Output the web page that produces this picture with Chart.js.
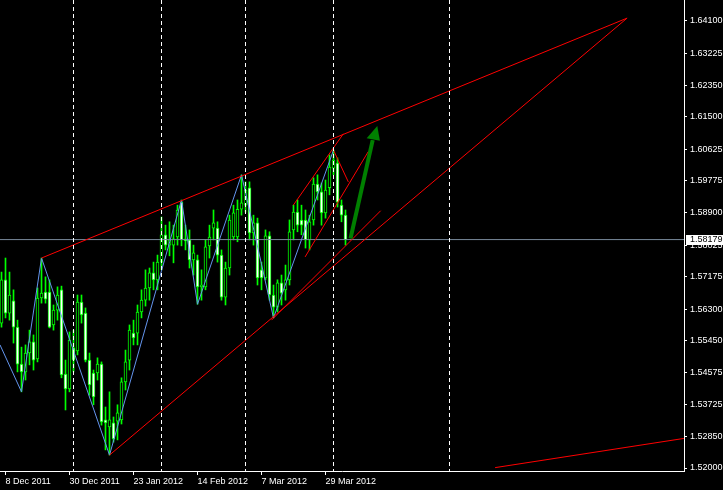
<!DOCTYPE html>
<html>
<head>
<meta charset="utf-8">
<script src="https://cdn.jsdelivr.net/npm/chart.js@4.4.0/dist/chart.umd.min.js"></script>
<style>
  html, body { margin: 0; padding: 0; background: #000; }
  canvas { display: block; background: #000; }
</style>
</head>
<body>
<canvas id="myChart" width="723" height="490"></canvas>
<script>
// daily candles, bar 0 = 7 Dec 2011 ... bar 86 = 5 Apr 2012
const opens = [1.5592, 1.5709, 1.5619, 1.5652, 1.5581, 1.5481, 1.5460, 1.5511, 1.5541, 1.5495,
  1.5660, 1.5676, 1.5676, 1.5587, 1.5627, 1.5682, 1.5454, 1.5414, 1.5525, 1.5517,
  1.5649, 1.5619, 1.5492, 1.5457, 1.5457, 1.5481, 1.5330, 1.5311, 1.5322, 1.5327,
  1.5330, 1.5433, 1.5492, 1.5565, 1.5565, 1.5622, 1.5654, 1.5687, 1.5728, 1.5709,
  1.5757, 1.5831, 1.5803, 1.5803, 1.5825, 1.5919, 1.5820, 1.5817, 1.5763, 1.5763,
  1.5690, 1.5690, 1.5801, 1.5849, 1.5849, 1.5776, 1.5662, 1.5741, 1.5825, 1.5825,
  1.5900, 1.5911, 1.5958, 1.5836, 1.5863, 1.5736, 1.5714, 1.5828, 1.5668, 1.5635,
  1.5701, 1.5682, 1.5709, 1.5844, 1.5892, 1.5871, 1.5871, 1.5817, 1.5871, 1.5968,
  1.5947, 1.5890, 1.5958, 1.6011, 1.6025, 1.5911, 1.5884]
const highs = [1.5730, 1.5768, 1.5730, 1.5682, 1.5600, 1.5527, 1.5533, 1.5573, 1.5560, 1.5687,
  1.5768, 1.5717, 1.5709, 1.5641, 1.5690, 1.5692, 1.5492, 1.5568, 1.5573, 1.5668,
  1.5668, 1.5633, 1.5511, 1.5465, 1.5498, 1.5487, 1.5365, 1.5406, 1.5338, 1.5371,
  1.5444, 1.5519, 1.5587, 1.5600, 1.5641, 1.5682, 1.5736, 1.5741, 1.5757, 1.5776,
  1.5879, 1.5857, 1.5866, 1.5857, 1.5911, 1.5925, 1.5857, 1.5844, 1.5803, 1.5776,
  1.5736, 1.5817, 1.5857, 1.5898, 1.5866, 1.5790, 1.5757, 1.5884, 1.5911, 1.5925,
  1.5993, 1.5974, 1.5974, 1.5884, 1.5876, 1.5757, 1.5844, 1.5839, 1.5695, 1.5709,
  1.5722, 1.5749, 1.5871, 1.5911, 1.5925, 1.5911, 1.5898, 1.5884, 1.5985, 1.5993,
  1.5971, 1.5979, 1.6047, 1.6060, 1.6039, 1.5925, 1.5898]
const lows = [1.5581, 1.5606, 1.5600, 1.5538, 1.5460, 1.5406, 1.5438, 1.5479, 1.5465, 1.5487,
  1.5646, 1.5646, 1.5579, 1.5573, 1.5600, 1.5444, 1.5357, 1.5406, 1.5460, 1.5506,
  1.5592, 1.5487, 1.5397, 1.5371, 1.5438, 1.5316, 1.5249, 1.5235, 1.5270, 1.5276,
  1.5319, 1.5411, 1.5465, 1.5533, 1.5533, 1.5606, 1.5638, 1.5654, 1.5682, 1.5682,
  1.5736, 1.5790, 1.5774, 1.5755, 1.5803, 1.5801, 1.5790, 1.5741, 1.5722, 1.5643,
  1.5654, 1.5682, 1.5768, 1.5817, 1.5757, 1.5654, 1.5641, 1.5722, 1.5817, 1.5812,
  1.5884, 1.5892, 1.5817, 1.5803, 1.5695, 1.5682, 1.5709, 1.5654, 1.5606, 1.5622,
  1.5641, 1.5654, 1.5695, 1.5817, 1.5839, 1.5831, 1.5795, 1.5790, 1.5857, 1.5925,
  1.5857, 1.5876, 1.5939, 1.5993, 1.5906, 1.5866, 1.5803]
const closes = [1.5709, 1.5619, 1.5668, 1.5581, 1.5481, 1.5460, 1.5511, 1.5541, 1.5492, 1.5660,
  1.5673, 1.5657, 1.5581, 1.5627, 1.5668, 1.5452, 1.5414, 1.5546, 1.5492, 1.5649,
  1.5614, 1.5492, 1.5425, 1.5392, 1.5481, 1.5325, 1.5322, 1.5330, 1.5279, 1.5349,
  1.5433, 1.5487, 1.5573, 1.5552, 1.5622, 1.5654, 1.5687, 1.5728, 1.5709, 1.5757,
  1.5831, 1.5803, 1.5817, 1.5820, 1.5898, 1.5817, 1.5814, 1.5763, 1.5782, 1.5690,
  1.5695, 1.5798, 1.5825, 1.5863, 1.5776, 1.5662, 1.5741, 1.5871, 1.5890, 1.5900,
  1.5917, 1.5952, 1.5836, 1.5863, 1.5714, 1.5714, 1.5828, 1.5668, 1.5635, 1.5701,
  1.5673, 1.5709, 1.5839, 1.5892, 1.5857, 1.5857, 1.5817, 1.5866, 1.5968, 1.5947,
  1.5890, 1.5952, 1.6014, 1.6033, 1.5919, 1.5884, 1.58179]

// axis labels
const dateTicks = [1, 17, 33, 49, 65, 81]
const dateLabels = ['8 Dec 2011', '30 Dec 2011', '23 Jan 2012', '14 Feb 2012', '7 Mar 2012', '29 Mar 2012']
const priceTicks = [1.641, 1.63225, 1.6235, 1.615, 1.60625, 1.59775, 1.589, 1.58025,
  1.57175, 1.563, 1.5545, 1.54575, 1.53725, 1.5285, 1.52]
const priceLabels = ['1.64100', '1.63225', '1.62350', '1.61500', '1.60625', '1.59775', '1.58900', '1.58025',
  '1.57175', '1.56300', '1.55450', '1.54575', '1.53725', '1.52850', '1.52000']
const lastPrice = 1.58179

// visible window (in bars / price)
const xMin = -0.375, xMax = 170.625
const yMin = 1.51919, yMax = 1.6466

// month separators (bar index)
const separators = [18, 40, 61, 83, 112]

// zigzag swing points
const zigzagX = [-0.375, 5, 10, 27, 45, 49, 60, 68, 83]
const zigzagY = [1.5533, 1.5406, 1.5768, 1.5235, 1.5925, 1.5643, 1.5993, 1.5606, 1.6060]

// red trend lines [x1, y1, x2, y2]
const trendLines = [
  [10, 1.5768, 156.4, 1.6417],
  [27, 1.5235, 156.4, 1.6417],
  [67.5, 1.5600, 94.8, 1.5896],
  [72.95, 1.5911, 85.45, 1.6104],
  [83, 1.6060, 86.7, 1.5974],
  [75.9, 1.5771, 91.7, 1.6056],
  [123.4, 1.5201, 170.6, 1.5280]
]

// green arrow
const arrowShaft = [[87.25, 1.5821], [92.8, 1.6087]]
const arrowHead = [[93.95, 1.6125], [91.3, 1.6092], [94.6, 1.6085]]

const font = { family: '"Liberation Sans", Arial, sans-serif', size: 9 }
const idx = opens.map((o, i) => i)

function lineSet(points, color, width, dash, order) {
  return {
    type: 'line',
    data: points,
    borderColor: color,
    borderWidth: width,
    borderDash: dash || [],
    pointRadius: 0,
    tension: 0,
    fill: false,
    order: order
  }
}

const datasets = [
  {
    type: 'bar',
    data: idx.map(i => ({ x: i, y: [lows[i], highs[i]] })),
    backgroundColor: '#00ff00',
    borderWidth: 0,
    barThickness: 1,
    grouped: false,
    order: 21
  },
  {
    type: 'bar',
    data: idx.map(i => ({ x: i, y: [opens[i], closes[i]] })),
    backgroundColor: idx.map(i => closes[i] >= opens[i] ? '#000000' : '#ffffff'),
    borderColor: '#00ff00',
    borderWidth: 1,
    borderSkipped: false,
    barThickness: 3,
    minBarLength: 1,
    grouped: false,
    order: 20
  },
  lineSet([{ x: xMin, y: lastPrice }, { x: xMax, y: lastPrice }], '#778899', 1, null, 10),
  lineSet(zigzagX.map((x, i) => ({ x: x, y: zigzagY[i] })), '#6495ed', 1, null, 8)
]
trendLines.forEach(l => {
  datasets.push(lineSet([{ x: l[0], y: l[1] }, { x: l[2], y: l[3] }], '#ff0000', 1, null, 7))
})
separators.forEach(k => {
  datasets.push(lineSet([{ x: k, y: yMax }, { x: k, y: yMin }], '#ffffff', 1, [4, 3], 5))
})
datasets.push(lineSet(arrowShaft.map(p => ({ x: p[0], y: p[1] })), '#008000', 4, null, 1))

// arrow head and the current price box
const extras = {
  id: 'extras',
  afterDraw(chart) {
    const ctx = chart.ctx
    const xs = chart.scales.x, ys = chart.scales.y
    ctx.save()
    ctx.beginPath()
    arrowHead.forEach((p, i) => {
      const px = xs.getPixelForValue(p[0]), py = ys.getPixelForValue(p[1])
      if (i) ctx.lineTo(px, py); else ctx.moveTo(px, py)
    })
    ctx.closePath()
    ctx.fillStyle = '#008000'
    ctx.fill()

    const y = Math.round(ys.getPixelForValue(lastPrice))
    const left = chart.chartArea.right + 2
    ctx.fillStyle = '#ffffff'
    ctx.fillRect(left, y - 5, chart.width - left, 10)
    ctx.fillStyle = '#000000'
    ctx.font = '9px ' + font.family
    ctx.textBaseline = 'middle'
    ctx.fillText(lastPrice.toFixed(5), left + 4, y)
    ctx.restore()
  }
}

const ctx = document.getElementById('myChart').getContext('2d')
const chart = new Chart(ctx, {
  type: 'bar',
  data: { datasets: datasets },
  plugins: [extras],
  options: {
    responsive: false,
    animation: false,
    devicePixelRatio: 1,
    layout: { padding: 0 },
    plugins: { legend: { display: false }, tooltip: { enabled: false } },
    scales: {
      x: {
        type: 'linear',
        position: 'bottom',
        min: xMin,
        max: xMax,
        offset: false,
        grid: { display: true, drawOnChartArea: false, drawTicks: true, tickLength: 4, color: '#ffffff', offset: false },
        border: { display: true, color: '#ffffff' },
        ticks: {
          color: '#ffffff', font: font, autoSkip: false, maxRotation: 0, align: 'start', padding: 1,
          callback: (v, i) => dateLabels[i]
        },
        afterBuildTicks: s => { s.ticks = dateTicks.map(v => ({ value: v })) },
        afterFit: s => { s.height = 19; s.paddingLeft = 0; s.paddingRight = 0 }
      },
      y: {
        type: 'linear',
        position: 'right',
        min: yMin,
        max: yMax,
        grid: { display: true, drawOnChartArea: false, drawTicks: true, tickLength: 3, color: '#ffffff' },
        border: { display: true, color: '#ffffff' },
        ticks: {
          color: '#ffffff', font: font, autoSkip: false, padding: 3,
          callback: (v, i) => priceLabels[i]
        },
        afterBuildTicks: s => { s.ticks = priceTicks.map(v => ({ value: v })) },
        afterFit: s => { s.width = 39; s.paddingTop = 0; s.paddingBottom = 0 }
      }
    }
  }
})
</script>
</body>
</html>
